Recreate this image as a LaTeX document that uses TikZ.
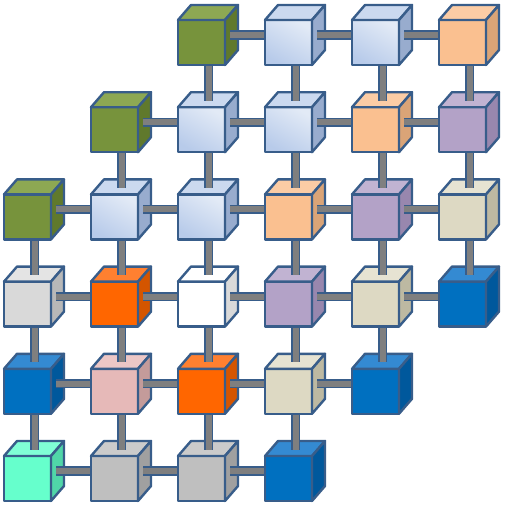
\documentclass[tikz,border=0pt]{standalone}
\usepackage{tikz}
\definecolor{edge}{HTML}{385D8A}
\definecolor{bargray}{HTML}{7F7F7F}
\tikzset{
  x=1pt, y=-1pt,
  cubeline/.style={draw=edge, line width=2.4pt, line join=round},
  green front/.style={fill={rgb,255:red,119;green,147;blue,60}},
  green top/.style={fill={rgb,255:red,141;green,168;blue,83}},
  green side/.style={fill={rgb,255:red,96;green,121;blue,44}},
  lb front/.style={left color={rgb,255:red,226;green,234;blue,246}, right color={rgb,255:red,184;green,203;blue,234}, shading angle=-30},
  lb top/.style={fill={rgb,255:red,203;green,217;blue,239}},
  lb side/.style={fill={rgb,255:red,152;green,172;blue,206}},
  peach front/.style={fill={rgb,255:red,250;green,192;blue,144}},
  peach top/.style={fill={rgb,255:red,251;green,204;blue,165}},
  peach side/.style={fill={rgb,255:red,218;green,164;blue,119}},
  lav front/.style={fill={rgb,255:red,179;green,162;blue,199}},
  lav top/.style={fill={rgb,255:red,193;green,179;blue,210}},
  lav side/.style={fill={rgb,255:red,152;green,135;blue,174}},
  beige front/.style={fill={rgb,255:red,221;green,217;blue,195}},
  beige top/.style={fill={rgb,255:red,230;green,227;blue,210}},
  beige side/.style={fill={rgb,255:red,189;green,185;blue,162}},
  blue front/.style={fill={rgb,255:red,0;green,112;blue,192}},
  blue top/.style={fill={rgb,255:red,52;green,138;blue,210}},
  blue side/.style={fill={rgb,255:red,0;green,88;blue,156}},
  orange front/.style={fill={rgb,255:red,255;green,102;blue,0}},
  orange top/.style={fill={rgb,255:red,255;green,128;blue,48}},
  orange side/.style={fill={rgb,255:red,212;green,85;blue,0}},
  lgray front/.style={fill={rgb,255:red,217;green,217;blue,217}},
  lgray top/.style={fill={rgb,255:red,228;green,228;blue,228}},
  lgray side/.style={fill={rgb,255:red,184;green,184;blue,184}},
  white front/.style={fill=white},
  white top/.style={fill=white},
  white side/.style={fill={rgb,255:red,217;green,217;blue,217}},
  pink front/.style={fill={rgb,255:red,230;green,185;blue,184}},
  pink top/.style={fill={rgb,255:red,236;green,199;blue,198}},
  pink side/.style={fill={rgb,255:red,196;green,155;blue,154}},
  aqua front/.style={fill={rgb,255:red,102;green,255;blue,204}},
  aqua top/.style={fill={rgb,255:red,128;green,255;blue,214}},
  aqua side/.style={fill={rgb,255:red,80;green,214;blue,168}},
  gray front/.style={fill={rgb,255:red,191;green,191;blue,191}},
  gray top/.style={fill={rgb,255:red,203;green,203;blue,203}},
  gray side/.style={fill={rgb,255:red,160;green,160;blue,160}},
  pics/cube/.style={code={
    \path[cubeline,#1 front] (0,0) rectangle (47,45);
    \path[cubeline,#1 top] (0,0) -- (13,-15) -- (60,-15) -- (47,0) -- cycle;
    \path[cubeline,#1 side] (47,0) -- (60,-15) -- (60,30) -- (47,45) -- cycle;
  }},
  bar/.style={draw=edge, line width=1.6pt, double=bargray, double distance=6pt},
  hbar/.style={bar, shorten <=21.5pt, shorten >=31.7pt},
  vbar/.style={bar, shorten <=31.2pt, shorten >=21.5pt},
}
\begin{document}
\begin{tikzpicture}
\useasboundingbox (0,0) rectangle (512,506);
\foreach \r/\c/\k in {
  0/2/green, 0/3/lb, 0/4/lb, 0/5/peach,
  1/1/green, 1/2/lb, 1/3/lb, 1/4/peach, 1/5/lav,
  2/0/green, 2/1/lb, 2/2/lb, 2/3/peach, 2/4/lav, 2/5/beige,
  3/0/lgray, 3/1/orange, 3/2/white, 3/3/lav, 3/4/beige, 3/5/blue,
  4/0/blue, 4/1/pink, 4/2/orange, 4/3/beige, 4/4/blue,
  5/0/aqua, 5/1/gray, 5/2/gray, 5/3/blue}{
  \pic at ({4+87*\c},{20+87.2*\r}) {cube=\k};
  \coordinate (n\r-\c) at ({4+87*\c+30.5},{20+87.2*\r+15});
}
% horizontal connectors
\foreach \r/\a/\b in {
  0/2/3, 0/3/4, 0/4/5,
  1/1/2, 1/2/3, 1/3/4, 1/4/5,
  2/0/1, 2/1/2, 2/2/3, 2/3/4, 2/4/5,
  3/0/1, 3/1/2, 3/2/3, 3/3/4, 3/4/5,
  4/0/1, 4/1/2, 4/2/3, 4/3/4,
  5/0/1, 5/1/2, 5/2/3}{
  \draw[hbar] (n\r-\a) -- (n\r-\b);
}
% vertical connectors
\foreach \c/\a/\b in {
  0/2/3, 0/3/4, 0/4/5,
  1/1/2, 1/2/3, 1/3/4, 1/4/5,
  2/0/1, 2/1/2, 2/2/3, 2/3/4, 2/4/5,
  3/0/1, 3/1/2, 3/2/3, 3/3/4, 3/4/5,
  4/0/1, 4/1/2, 4/2/3, 4/3/4,
  5/0/1, 5/1/2, 5/2/3}{
  \draw[vbar] (n\a-\c) -- (n\b-\c);
}
\end{tikzpicture}
\end{document}
